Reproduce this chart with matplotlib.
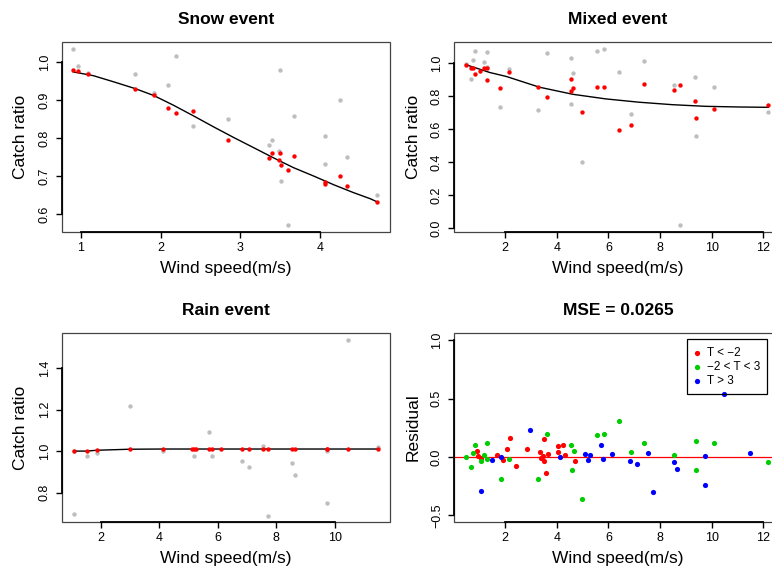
import matplotlib
matplotlib.use('Agg')
import matplotlib.pyplot as plt
from matplotlib.patches import Rectangle
from matplotlib.lines import Line2D

plt.rcParams['font.family'] = ['Liberation Sans', 'DejaVu Sans']

# ---------------- data ----------------
snow_x = [0.908, 0.962, 1.092, 1.681, 1.915, 2.091, 2.199, 2.412, 2.847, 3.361, 3.403,
          3.482, 3.503, 3.507, 3.599, 3.674, 4.059, 4.059, 4.251, 4.331, 4.71]
snow_obs = [1.035, 0.991, 0.973, 0.970, 0.920, 0.941, 1.017, 0.832, 0.850, 0.781, 0.796,
            0.766, 0.980, 0.687, 0.570, 0.858, 0.805, 0.731, 0.900, 0.750, 0.649]
snow_fit = [0.980, 0.977, 0.970, 0.930, 0.914, 0.879, 0.866, 0.871, 0.796, 0.747, 0.760,
            0.742, 0.760, 0.729, 0.715, 0.752, 0.683, 0.678, 0.700, 0.674, 0.631]
snow_curve_x = [0.908, 1.159, 1.41, 1.681, 1.911, 2.162, 2.412, 2.663, 2.914, 3.165,
                3.415, 3.666, 3.917, 4.168, 4.418, 4.627, 4.71]
snow_curve_y = [0.975, 0.965, 0.949, 0.931, 0.913, 0.887, 0.859, 0.830, 0.802, 0.775,
                0.748, 0.722, 0.700, 0.677, 0.656, 0.640, 0.632]

mixed_obs_x = [0.486, 0.679, 0.756, 0.833, 1.166, 1.294, 1.294, 1.820, 2.141, 3.270, 3.616,
               4.553, 4.566, 4.643, 4.963, 5.541, 5.823, 6.413, 6.875, 7.362, 8.543, 8.774,
               9.364, 9.402, 10.07, 12.19]
mixed_obs = [0.994, 0.905, 1.020, 1.075, 1.008, 1.069, 0.978, 0.734, 0.966, 0.716, 1.063,
             1.032, 0.753, 0.941, 0.400, 1.075, 1.087, 0.947, 0.692, 1.014, 0.868, 0.016,
             0.917, 0.558, 0.856, 0.704]
mixed_fit_x = [0.486, 0.679, 0.756, 0.833, 1.038, 1.166, 1.294, 1.294, 1.820, 2.141, 3.270,
               3.616, 4.553, 4.566, 4.643, 4.963, 5.541, 5.823, 6.413, 6.875, 7.362, 8.543,
               8.774, 9.364, 9.402, 10.07, 12.19]
mixed_fit = [0.986, 0.972, 0.972, 0.937, 0.953, 0.972, 0.972, 0.895, 0.850, 0.947, 0.856,
             0.797, 0.905, 0.828, 0.850, 0.704, 0.856, 0.856, 0.596, 0.627, 0.874, 0.838,
             0.868, 0.773, 0.667, 0.722, 0.746]
mixed_curve_x = [0.486, 1.025, 1.41, 2.05, 3.33, 4.62, 5.9, 7.18, 8.47, 9.75, 11.03, 12.19]
mixed_curve_y = [0.990, 0.963, 0.943, 0.919, 0.854, 0.811, 0.783, 0.763, 0.748, 0.738,
                 0.734, 0.732]

rain_obs_x = [1.066, 1.066, 1.51, 1.85, 2.98, 4.12, 5.19, 5.69, 5.79, 6.83, 7.08, 7.55, 7.72,
              8.52, 8.63, 9.74, 9.74, 10.47, 11.47]
rain_obs = [0.699, 1.0, 0.976, 0.989, 1.216, 1.0, 0.976, 1.091, 0.976, 0.952, 0.923, 1.024,
            0.688, 0.942, 0.886, 0.750, 1.0, 1.533, 1.019]
rain_fit_x = [1.066, 1.51, 1.85, 2.98, 4.12, 5.11, 5.19, 5.26, 5.69, 5.79, 6.11, 6.83, 7.08,
              7.55, 7.72, 8.52, 8.63, 9.74, 9.74, 10.47, 11.47]
rain_fit = [1.0, 1.0, 1.005, 1.01, 1.01, 1.01, 1.01, 1.01, 1.01, 1.01, 1.01, 1.01, 1.01,
            1.01, 1.01, 1.01, 1.01, 1.01, 1.01, 1.01, 1.01]
rain_curve_x = [1.066, 1.51, 1.85, 2.98, 4.12, 11.47]
rain_curve_y = [1.0, 1.0, 1.004, 1.009, 1.010, 1.010]

res_cold_x = [0.897, 0.962, 1.051, 1.679, 1.910, 2.090, 2.192, 2.423, 2.846, 3.346, 3.397,
              3.462, 3.500, 3.513, 3.603, 3.667, 4.038, 4.051, 4.244, 4.333, 4.718]
res_cold = [0.048, 0.009, -0.009, 0.014, -0.028, 0.066, 0.160, -0.080, 0.066, 0.040, -0.009,
            0.009, 0.151, -0.037, -0.140, 0.023, 0.091, 0.040, 0.100, 0.014, -0.037]
res_mid_x = [0.5, 0.692, 0.769, 0.846, 1.051, 1.179, 1.308, 1.308, 1.833, 2.154, 3.282, 3.628,
             4.564, 4.577, 4.654, 4.974, 5.551, 5.833, 6.423, 6.885, 7.372, 8.551, 9.372,
             9.410, 10.08, 12.19]
res_mid = [0.0, -0.088, 0.031, 0.100, -0.031, 0.014, 0.117, -0.014, -0.191, -0.014, -0.191,
           0.202, 0.100, -0.114, 0.048, -0.362, 0.185, 0.202, 0.313, 0.040, 0.117, 0.014,
           0.134, -0.114, 0.125, -0.046]
res_warm_x = [1.077, 1.513, 1.859, 2.974, 4.128, 5.103, 5.205, 5.282, 5.705, 5.795, 6.128,
              6.846, 7.103, 7.551, 7.744, 8.551, 8.641, 9.756, 9.756, 10.487, 11.487]
res_warm = [-0.293, -0.023, 0.0, 0.228, 0.003, 0.023, -0.023, 0.014, 0.100, -0.014, 0.023,
            -0.037, -0.063, 0.031, -0.302, -0.046, -0.105, 0.009, -0.242, 0.544, 0.031]

titles = ['Snow event', 'Mixed event', 'Rain event', 'MSE = 0.0265']
legend_labels = ['T < \u22122', '\u22122 < T < 3', 'T > 3']
xlabel = 'Wind speed(m/s)'

# ---------------- style ----------------
W, H = 772, 567
GRAY = '#BEBEBE'
RED = '#FF0000'
GREEN = '#00CD00'
BLUE = '#0000FF'
MS = 10
MS_RES = 14
TICK_FS = 9
LAB_FS = 12.5
TITLE_FS = 12.5

fig = plt.figure(figsize=(W / 100, H / 100), dpi=100)


def make_ax(x0, y0, x1, y1):
    return fig.add_axes([x0 / W, 1 - y1 / H, (x1 - x0) / W, (y1 - y0) / H])


def fmt(v):
    return f'{v:.1f}'.replace('-', '\u2212')


def style(ax, xlim, ylim, xticks, yticks, title, ylabel):
    ax.set_xlim(xlim)
    ax.set_ylim(ylim)
    ax.set_xticks(xticks)
    ax.set_xticklabels([str(int(t)) for t in xticks], fontsize=TICK_FS)
    ax.set_yticks(yticks)
    ax.set_yticklabels([fmt(t) for t in yticks], fontsize=TICK_FS, rotation=90, va='center')
    for s in ['top', 'right']:
        ax.spines[s].set_visible(False)
    ax.spines['left'].set_bounds(yticks[0], yticks[-1])
    ax.spines['bottom'].set_bounds(xticks[0], xticks[-1])
    for s in ['left', 'bottom']:
        ax.spines[s].set_linewidth(1.3)
        ax.spines[s].set_color('black')
    ax.add_patch(Rectangle((0, 0), 1, 1, transform=ax.transAxes, fill=False,
                           edgecolor='#444444', lw=0.9, clip_on=False, zorder=0.5))
    ax.tick_params(length=4, width=1, direction='out', pad=3)
    ax.tick_params(axis='y', pad=4)
    ax.set_title(title, fontsize=TITLE_FS, fontweight='bold', pad=13)
    ax.set_xlabel(xlabel, fontsize=LAB_FS)
    ax.set_ylabel(ylabel, fontsize=LAB_FS)
    h = ax.get_position().height * H
    w = ax.get_position().width * W
    ax.xaxis.set_label_coords(0.5, -36 / h)
    ax.xaxis.label.set_va('center')
    ax.yaxis.set_label_coords(-41 / w, 0.5)
    ax.yaxis.label.set_va('center')


# Snow
ax1 = make_ax(62, 42, 390, 232)
ax1.scatter(snow_x, snow_obs, s=MS, color=GRAY, lw=0, zorder=2)
ax1.plot(snow_curve_x, snow_curve_y, color='black', lw=1, zorder=3)
ax1.scatter(snow_x, snow_fit, s=MS, color=RED, lw=0, zorder=4)
style(ax1, (0.766, 4.875), (0.552, 1.054), [1, 2, 3, 4], [0.6, 0.7, 0.8, 0.9, 1.0],
      titles[0], 'Catch ratio')

# Mixed
ax2 = make_ax(454, 42, 782, 232)
ax2.scatter(mixed_obs_x, mixed_obs, s=MS, color=GRAY, lw=0, zorder=2)
ax2.plot(mixed_curve_x, mixed_curve_y, color='black', lw=1, zorder=3)
ax2.scatter(mixed_fit_x, mixed_fit, s=MS, color=RED, lw=0, zorder=4)
style(ax2, (0.024, 12.72), (-0.024, 1.128), [2, 4, 6, 8, 10, 12],
      [0.0, 0.2, 0.4, 0.6, 0.8, 1.0], titles[1], 'Catch ratio')

# Rain
ax3 = make_ax(62, 333, 390, 522)
ax3.scatter(rain_obs_x, rain_obs, s=MS, color=GRAY, lw=0, zorder=2)
ax3.plot(rain_curve_x, rain_curve_y, color='black', lw=1, zorder=3)
ax3.scatter(rain_fit_x, rain_fit, s=MS, color=RED, lw=0, zorder=4)
style(ax3, (0.667, 11.89), (0.659, 1.568), [2, 4, 6, 8, 10], [0.8, 1.0, 1.2, 1.4],
      titles[2], 'Catch ratio')

# Residuals
ax4 = make_ax(454, 333, 782, 522)
ax4.axhline(0, color=RED, lw=0.9, zorder=2)
ax4.scatter(res_cold_x, res_cold, s=MS_RES, color=RED, lw=0, zorder=3)
ax4.scatter(res_mid_x, res_mid, s=MS_RES, color=GREEN, lw=0, zorder=3)
ax4.scatter(res_warm_x, res_warm, s=MS_RES, color=BLUE, lw=0, zorder=3)
style(ax4, (0.024, 12.72), (-0.556, 1.063), [2, 4, 6, 8, 10, 12],
      [-0.5, 0.0, 0.5, 1.0], titles[3], 'Residual')

# Legend (drawn in figure pixel coordinates, transparent background like R)
def fx(px):
    return px / W


def fy(py):
    return 1 - py / H


fig.add_artist(Rectangle((fx(687), fy(394)), (767 - 687) / W, (394 - 339) / H,
                         transform=fig.transFigure, fill=False,
                         edgecolor='black', lw=0.9, zorder=10))
for lab, col, yy in zip(legend_labels, [RED, GREEN, BLUE], [353.3, 367, 380.7]):
    fig.add_artist(Line2D([fx(697)], [fy(yy)], transform=fig.transFigure, marker='o',
                          markersize=3.8, color=col, markeredgewidth=0, lw=0, zorder=11))
    fig.text(fx(707), fy(yy), lab, fontsize=8.5, va='center', ha='left', zorder=11)

fig.savefig('out.png', dpi=100)
